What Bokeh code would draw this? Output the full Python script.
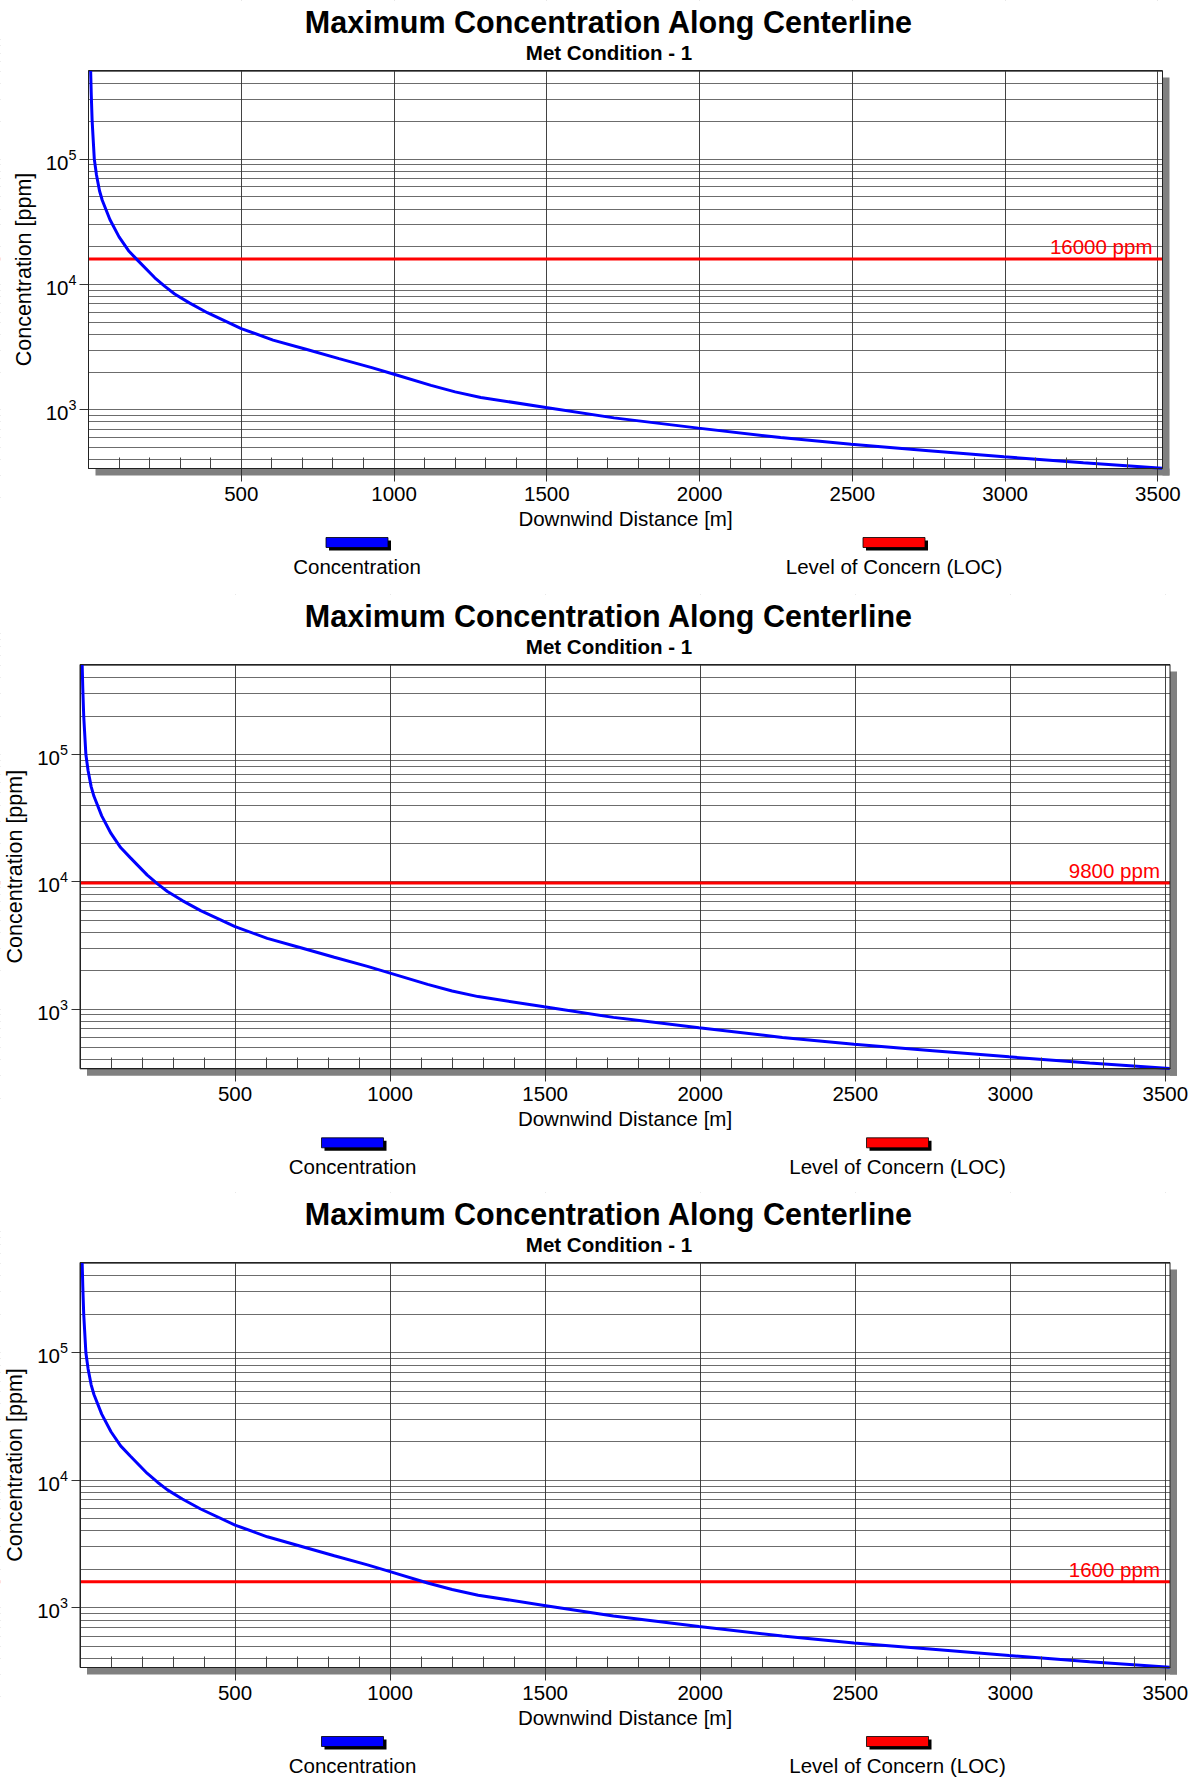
import math
from bokeh.plotting import figure
from bokeh.layouts import column
from bokeh.models import FixedTicker, LogTickFormatter, Span, Label, BoxAnnotation
from bokeh.embed import file_html
from bokeh.resources import INLINE

# ---------------- data ----------------
distance_m = [7, 9, 12, 19, 26, 36, 45, 70, 100, 131, 162, 217, 250, 282, 330, 389,
              500, 604, 712, 820, 927, 1000, 1121, 1200, 1284, 1497, 1720, 1996,
              2265, 2496, 2750, 2996, 3256, 3514]
concentration_ppm = [510000, 330000, 200000, 100000, 75000, 56000, 47000, 33000,
                     24000, 18600, 15500, 11300, 9650, 8400, 7130, 5950, 4450, 3600,
                     3040, 2560, 2170, 1920, 1565, 1390, 1255, 1043, 862, 714, 600,
                     530, 472, 422, 378, 342]
loc_ppm = [16000, 9800, 1600]

title_text = "Maximum Concentration Along Centerline"
subtitle_text = "Met Condition - 1"
x_label = "Downwind Distance [m]"
y_label = "Concentration [ppm]"
legend_labels = ["Concentration", "Level of Concern (LOC)"]

x_ticks = [500, 1000, 1500, 2000, 2500, 3000, 3500]
x_minor_ticks = [100, 200, 300, 400, 600, 700, 800, 900, 1100, 1200, 1300, 1400,
                 1600, 1700, 1800, 1900, 2100, 2200, 2300, 2400, 2600, 2700, 2800,
                 2900, 3100, 3200, 3300, 3400]
y_ticks = [1e3, 1e4, 1e5]
y_minor_ticks = [m * 10 ** e for e in (2, 3, 4, 5) for m in range(2, 10)]

X_RANGE = (0, 3515)
Y_RANGE = (340, 510000)

FONT = "Liberation Sans"
BLUE = "#0000ff"
RED = "#ff0000"
FIG_W = 1190
TXT = "20.5px"

# plot-area geometry of each panel, in pixels of that panel: left, right, top, bottom, panel height
panel_boxes = [
    (88.0, 1162.0, 70.0, 468.0, 594),
    (79.5, 1169.5, 70.0, 474.3, 598),
    (79.5, 1169.5, 70.0, 475.0, 588),
]


def box(l, r, b, t, **kw):
    return BoxAnnotation(left=l, right=r, bottom=b, top=t,
                         left_units="screen", right_units="screen",
                         bottom_units="screen", top_units="screen", **kw)


def text_label(x, y, text, size=TXT, style="normal", color="black",
               align="center", angle=0.0):
    return Label(x=x, y=y, x_units="screen", y_units="screen", text=text,
                 angle=angle, text_align=align, text_baseline="middle",
                 text_font=FONT, text_font_size=size, text_font_style=style,
                 text_color=color)


def make_panel(loc, geom):
    L, R, T, B, H = geom
    # the frame covers the whole panel; the plot area is placed through the ranges
    mpp = (X_RANGE[1] - X_RANGE[0]) / (R - L)
    x0 = X_RANGE[0] - L * mpp
    x1 = X_RANGE[0] + (FIG_W - L) * mpp
    l0, l1 = math.log10(Y_RANGE[0]), math.log10(Y_RANGE[1])
    dpp = (l1 - l0) / (B - T)
    y0 = 10 ** (l0 - (H - B) * dpp)
    y1 = 10 ** (l1 + T * dpp)

    p = figure(width=FIG_W, height=H, x_range=(x0, x1), y_range=(y0, y1),
               y_axis_type="log", output_backend="svg", toolbar_location=None,
               title=None, min_border=0)
    p.min_border_left = p.min_border_right = 0
    p.min_border_top = p.min_border_bottom = 0
    p.background_fill_color = "white"
    p.border_fill_color = "white"
    p.outline_line_color = None

    # grids (lowest level), hidden outside the plot area by white covers
    p.xgrid.ticker = FixedTicker(ticks=x_ticks)
    p.xgrid.grid_line_color = "#222222"
    p.xgrid.grid_line_alpha = 0.85
    p.xgrid.level = "image"
    p.ygrid.ticker = FixedTicker(ticks=y_ticks, minor_ticks=y_minor_ticks)
    p.ygrid.grid_line_color = "#333333"
    p.ygrid.grid_line_alpha = 0.72
    p.ygrid.minor_grid_line_color = "#333333"
    p.ygrid.minor_grid_line_alpha = 0.72
    p.ygrid.level = "image"

    # LOC line
    p.add_layout(Span(location=loc, dimension="width", line_color=RED,
                      line_width=3, level="image"))

    sb, st = H - B, H - T  # plot bottom / top in screen units (upwards)
    for l, r, b, t in [(-10, FIG_W + 10, st, H + 10), (-10, FIG_W + 10, -10, sb),
                       (-10, L, sb, st), (R, FIG_W + 10, sb, st)]:
        p.add_layout(box(l, r, b, t, fill_color="white", fill_alpha=1.0,
                         line_alpha=0, level="underlay"))
    # drop shadow
    for l, r, b, t in [(L + 7, R + 7, sb - 7, sb), (R, R + 7, sb - 7, st - 7)]:
        p.add_layout(box(l, r, b, t, fill_color="#808080", fill_alpha=1.0,
                         line_alpha=0, level="underlay"))

    # x axis
    xa = p.xaxis[0]
    xa.fixed_location = Y_RANGE[0]
    xa.bounds = X_RANGE
    xa.ticker = FixedTicker(ticks=x_ticks, minor_ticks=x_minor_ticks)
    xa.axis_line_color = "#222222"
    xa.major_tick_out = 13
    xa.major_tick_in = 0
    xa.major_tick_line_color = "#333333"
    xa.minor_tick_in = 11
    xa.minor_tick_out = 0
    xa.minor_tick_line_color = "#444444"
    xa.major_label_text_font = FONT
    xa.major_label_text_font_size = TXT
    xa.major_label_text_color = "black"
    xa.major_label_standoff = 5

    # y axis
    ya = p.yaxis[0]
    ya.fixed_location = X_RANGE[0]
    ya.bounds = Y_RANGE
    ya.ticker = FixedTicker(ticks=y_ticks)
    ya.formatter = LogTickFormatter()
    ya.axis_line_color = "#222222"
    ya.major_tick_out = 9
    ya.major_tick_in = 0
    ya.major_tick_line_color = "#333333"
    ya.minor_tick_line_color = None
    ya.major_label_text_font = FONT
    ya.major_label_text_font_size = TXT
    ya.major_label_text_color = "black"
    ya.major_label_standoff = 3

    # plot-area border
    p.add_layout(box(L, R, sb, st, fill_alpha=0, line_color="#222222",
                     line_width=1, line_alpha=1.0))

    # data
    p.line(distance_m, concentration_ppm, line_color=BLUE, line_width=3)
    p.add_layout(Label(x=R - 10, y=loc, x_units="screen", y_units="data",
                       y_offset=12, text=f"{loc} ppm", text_align="right",
                       text_baseline="alphabetic", text_font=FONT,
                       text_font_size=TXT, text_color=RED))

    # titles and axis titles
    p.add_layout(text_label(608.5, H - (T - 49), title_text, size="30.5px", style="bold"))
    p.add_layout(text_label(608.5, H - (T - 18.5), subtitle_text, style="bold"))
    p.add_layout(text_label((L + R) / 2, H - (B + 50), x_label))
    p.add_layout(text_label(L - 65, H - (T + B) / 2, y_label, size="21.5px",
                            angle=math.pi / 2))

    # legend
    for i, (lab, col) in enumerate(zip(legend_labels, [BLUE, RED])):
        cx = L + (R - L) * (0.25 + 0.5 * i)
        top_s, bot_s = H - (B + 69), H - (B + 79)
        p.add_layout(box(cx - 31 + 3, cx + 31 + 3, bot_s - 3, top_s - 3,
                         fill_color="black", fill_alpha=1.0, line_alpha=0))
        p.add_layout(box(cx - 31, cx + 31, bot_s, top_s, fill_color=col,
                         fill_alpha=1.0, line_color="black", line_alpha=0.8,
                         line_width=1))
        p.add_layout(text_label(cx, H - (B + 98), lab))
    return p


panels = [make_panel(loc, g) for loc, g in zip(loc_ppm, panel_boxes)]
layout = column(*panels, spacing=0)

open("out.html", "w").write(file_html(layout, INLINE))
